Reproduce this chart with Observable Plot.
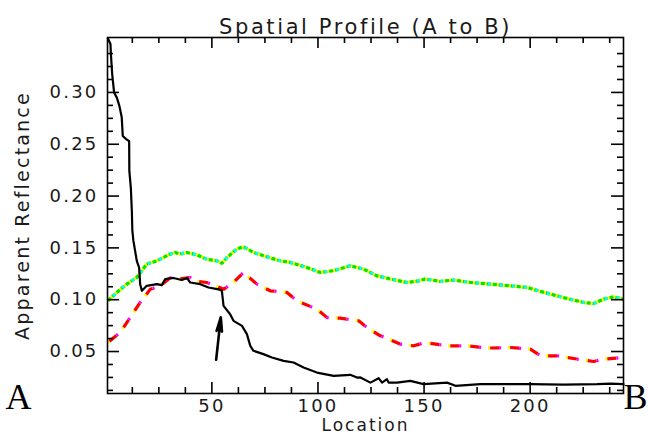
<!DOCTYPE html>
<html><head><meta charset="utf-8">
<script src="https://cdn.jsdelivr.net/npm/d3@7"></script>
<script src="https://cdn.jsdelivr.net/npm/@observablehq/plot@0.6"></script>
<style>body{margin:0;background:#fff;} #chart svg{display:block;}</style>
</head><body><div id="chart"></div>
<script>
// ---- data ----
const blackX = [1,2.2,2.4,3,3.9,5.2,6.4,7.5,8,9.6,11,11.1,11.8,12.3,12.5,13,14.6,15.7,16.2,17,19.3,24.1,26.4,28,31.9,35.8,38.2,39.8,44.5,48.4,53.1,54.7,55.5,58.6,60.2,64.2,66.5,68.1,69.6,74.3,78.3,83.8,88.5,93.2,99.5,107.4,115.2,118.4,120,124.7,128.6,130.2,132.5,133.3,137.3,143.5,149.8,160.8,164.8,176.6,200,215.8,231.6,237.9,244];
const blackY = [0.352,0.3467,0.337,0.318,0.300,0.295,0.287,0.276,0.258,0.255,0.253,0.224,0.208,0.184,0.167,0.157,0.1375,0.131,0.115,0.1086,0.1134,0.115,0.114,0.120,0.121,0.119,0.121,0.1166,0.115,0.1118,0.110,0.1086,0.094,0.086,0.0796,0.0748,0.0668,0.0555,0.0507,0.0475,0.0442,0.041,0.0394,0.0345,0.0297,0.0265,0.0275,0.0249,0.025,0.020,0.0243,0.020,0.0233,0.020,0.020,0.0217,0.0185,0.020,0.0169,0.0185,0.0185,0.018,0.0185,0.019,0.0185];

const greenX = [1,5.2,9.9,14.6,17,19.3,24.1,30.3,32.7,35,38.2,42.9,47.6,52.4,54.7,57.1,61.8,64.9,69.6,75.9,82.2,86.9,94.8,101.1,107.4,115.2,121.5,127.8,134.1,142,147.5,150.6,157.7,164,171.8,181.3,190.7,198.6,204.9,215.8,225.3,230,234.7,239.4,244];
const greenY = [0.099,0.107,0.115,0.1214,0.128,0.1344,0.1375,0.144,0.1456,0.144,0.1456,0.1433,0.139,0.1375,0.135,0.1407,0.149,0.151,0.1456,0.1414,0.1375,0.136,0.131,0.1263,0.128,0.1327,0.1295,0.123,0.120,0.1166,0.1182,0.120,0.1176,0.119,0.1166,0.115,0.1134,0.1118,0.108,0.102,0.0973,0.0963,0.1006,0.1028,0.1006];

const redX = [1,6.7,11.5,16.2,20.9,25.6,30.3,35,39.8,42.9,47.6,51.6,55.5,60.2,64.9,71.2,77.5,85.4,90.1,99.5,104.2,110.5,119.2,123.1,129.4,138.8,145.1,150.6,160.8,170.3,179.7,190.7,200.1,204.9,212.7,222.2,230,234.7,244];
const redY = [0.0587,0.0683,0.0828,0.0973,0.110,0.1134,0.121,0.120,0.1214,0.1176,0.1166,0.1134,0.110,0.1166,0.1263,0.115,0.1086,0.107,0.0989,0.0909,0.0828,0.0822,0.0796,0.0732,0.0652,0.0571,0.0555,0.0587,0.0555,0.0555,0.0533,0.0539,0.0523,0.0459,0.0459,0.0427,0.0404,0.0427,0.0442];

const arrowFrom = [52, 0.042];
const arrowTo = [54.2, 0.083];

const xMajor = [50,100,150,200];
const xMinor = [12.5,25,37.5,62.5,75,87.5,112.5,125,137.5,162.5,175,187.5,212.5,225,237.5];
const yMajor = [0.05,0.10,0.15,0.20,0.25,0.30];
const yMinor = [0.0125,0.025,0.0375,0.0625,0.075,0.0875,0.1125,0.125,0.1375,0.1625,0.175,0.1875,0.2125,0.225,0.2375,0.2625,0.275,0.2875,0.3125,0.325,0.3375];

const titleText = "Spatial Profile (A to B)";
const xLabel = "Location";
const yLabel = "Apparent Reflectance";
const endA = "A";
const endB = "B";

// ---- build tables ----
const toRows = (xs, ys) => xs.map((x, i) => ({x, y: ys[i]}));
const black = toRows(blackX, blackY);
const green = toRows(greenX, greenY);
const red = toRows(redX, redY);
const arrow = [{x1: arrowFrom[0], y1: arrowFrom[1], x2: arrowTo[0], y2: arrowTo[1]}];

const W = 648, H = 439, mL = 107, mR = 25, mT = 37, mB = 46;
const fw = W - mL - mR, fh = H - mT - mB;
const font = "DejaVu Sans";
const ink = "#1a1a1a";
const butt = {strokeLinecap: "butt", strokeLinejoin: "miter"};

const plot = Plot.plot({
  width: W, height: H,
  marginLeft: mL, marginRight: mR, marginTop: mT, marginBottom: mB,
  style: {fontFamily: font, background: "#fff", color: ink, overflow: "visible"},
  x: {domain: [0.8, 244]},
  y: {domain: [0.0095, 0.353]},
  marks: [
    // upper dotted series (yellow / green / cyan)
    Plot.line(green, {x: "x", y: "y", stroke: "#ffff00", strokeWidth: 3.2, ...butt}),
    Plot.line(green, {x: "x", y: "y", stroke: "#00e600", strokeWidth: 3.2, ...butt, strokeDasharray: "4,2"}),
    Plot.line(green, {x: "x", y: "y", stroke: "#00ffff", strokeWidth: 3.2, ...butt, strokeDasharray: "3,9", strokeDashoffset: -7}),
    // dashed series (red with magenta / yellow ends, white gaps)
    Plot.line(red, {x: "x", y: "y", stroke: "#ffff00", strokeWidth: 3.2, ...butt, strokeDasharray: "2,18"}),
    Plot.line(red, {x: "x", y: "y", stroke: "#ff0000", strokeWidth: 3.2, ...butt, strokeDasharray: "9,11", strokeDashoffset: -2}),
    Plot.line(red, {x: "x", y: "y", stroke: "#ff00ff", strokeWidth: 3.2, ...butt, strokeDasharray: "2,18", strokeDashoffset: -11}),
    // solid black series
    Plot.line(black, {x: "x", y: "y", stroke: "#000", strokeWidth: 2.2}),
    // arrow
    Plot.arrow(arrow, {x1: "x1", y1: "y1", x2: "x2", y2: "y2", stroke: "#000", strokeWidth: 2.6, headLength: 13, headAngle: 22}),
    // frame and inward ticks on all sides
    Plot.frame({stroke: "#000", strokeWidth: 1.6}),
    Plot.tickX(xMajor, {x: d => d, insetTop: fh - 11, stroke: "#000", strokeWidth: 1.6}),
    Plot.tickX(xMinor, {x: d => d, insetTop: fh - 6, stroke: "#000", strokeWidth: 1.6}),
    Plot.tickX(xMajor, {x: d => d, insetBottom: fh - 11, stroke: "#000", strokeWidth: 1.6}),
    Plot.tickX(xMinor, {x: d => d, insetBottom: fh - 6, stroke: "#000", strokeWidth: 1.6}),
    Plot.tickY(yMajor, {y: d => d, insetRight: fw - 12, stroke: "#000", strokeWidth: 1.6}),
    Plot.tickY(yMinor, {y: d => d, insetRight: fw - 6, stroke: "#000", strokeWidth: 1.6}),
    Plot.tickY(yMajor, {y: d => d, insetLeft: fw - 12, stroke: "#000", strokeWidth: 1.6}),
    Plot.tickY(yMinor, {y: d => d, insetLeft: fw - 6, stroke: "#000", strokeWidth: 1.6}),
    // tick labels
    Plot.axisX({ticks: xMajor, tickSize: 0, tickPadding: 6, label: null, fontSize: 18, fill: ink, tickFormat: d => String(d)}),
    Plot.axisY({ticks: yMajor, tickSize: 0, tickPadding: 9, label: null, fontSize: 18, fill: ink, tickFormat: d => d.toFixed(2)}),
    // texts
    Plot.text([titleText], {frameAnchor: "top", dy: -18, fontSize: 21, fill: ink}),
    Plot.text([xLabel], {frameAnchor: "bottom", dy: 37, fontSize: 17, fill: ink}),
    Plot.text([yLabel], {frameAnchor: "left", dx: -85, rotate: -90, textAnchor: "middle", fontSize: 19, fill: ink}),
    Plot.text([endA], {frameAnchor: "bottom-left", dx: -89, dy: 15, textAnchor: "middle", fontSize: 36, fontFamily: "Liberation Serif", fill: "#000"}),
    Plot.text([endB], {frameAnchor: "bottom-right", dx: 12, dy: 15, textAnchor: "middle", fontSize: 36, fontFamily: "Liberation Serif", fill: "#000"})
  ]
});

// widen the lettering to resemble the wide stroke font of the original
d3.select(plot).selectAll("text").each(function() {
  const t = this.textContent;
  if (t === endA || t === endB) return;
  const sp = t === titleText ? 2.6 : t === yLabel ? 2.2 : t === xLabel ? 2 : 2.2;
  d3.select(this).attr("letter-spacing", sp);
});
document.getElementById("chart").appendChild(plot);
</script>
</body></html>
